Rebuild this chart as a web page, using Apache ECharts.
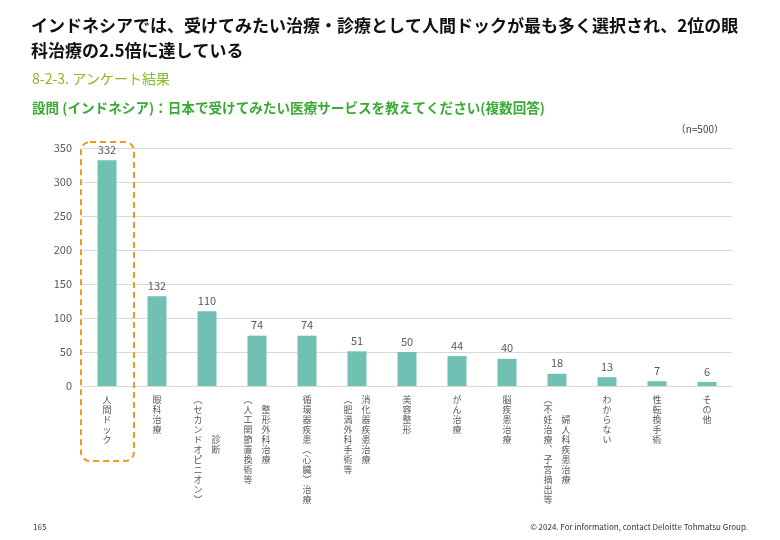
<!DOCTYPE html>
<html><head><meta charset="utf-8">
<script src="https://cdn.jsdelivr.net/npm/echarts@6/dist/echarts.min.js"></script>
<style>html,body{margin:0;padding:0;background:#fff}#c{width:780px;height:540px}</style>
</head><body><div id="c"></div>
<script>
const categories = ['人間ドック','眼科治療','診断\n（セカンドオピニオン）','整形外科治療\n（人工関節置換術等','循環器疾患（心臓）治療','消化器疾患治療\n（肥満外科手術等','美容整形','がん治療','脳疾患治療','婦人科疾患治療\n（不妊治療、子宮摘出等','わからない','性転換手術','その他'];
const values = [332,132,110,74,74,51,50,44,40,18,13,7,6];
const yTicks = {min:0, max:350, interval:50};

const FONT = '"Noto Sans CJK JP","Noto Sans",sans-serif';
const vmap = {'（':'︵','）':'︶','、':'︑'};
function vert(name){
  const cols = name.split('\n').map(c => Array.from(c).map(ch => vmap[ch] || ch));
  if (cols.length === 1) return cols[0].join('\n');
  const r = cols[0], l = cols[1];
  const off = Math.floor((l.length - r.length) / 2);
  const n = Math.max(l.length, r.length + off);
  const lines = [];
  for (let i = 0; i < n; i++) {
    lines.push((l[i] || '　') + '　' + (r[i - off] || '　'));
  }
  return lines.join('\n');
}

const chart = echarts.init(document.getElementById('c'), null, {renderer:'canvas'});
const option = {
  backgroundColor:'#fff',
  animation:false,
  textStyle:{fontFamily:FONT},
  title:[
    {text:'インドネシアでは、受けてみたい治療・診療として人間ドックが最も多く選択され、2位の眼\n科治療の2.5倍に達している',
     left:31, top:13, padding:0,
     textStyle:{fontFamily:FONT, fontSize:17, fontWeight:'bold', color:'#111', lineHeight:25}},
    {text:'8-2-3. アンケート結果', left:32, top:72, padding:0,
     textStyle:{fontFamily:FONT, fontSize:14, fontWeight:'normal', color:'#86bc25'}},
    {text:'設問 (インドネシア)：日本で受けてみたい医療サービスを教えてください(複数回答)', left:32, top:101, padding:0,
     textStyle:{fontFamily:FONT, fontSize:13.6, fontWeight:'bold', color:'#3aaa35'}},
    {text:'（n=500）', right:56, top:124, padding:0,
     textStyle:{fontFamily:FONT, fontSize:10, fontWeight:'normal', color:'#404040'}},
    {text:'165', left:33, top:523, padding:0,
     textStyle:{fontFamily:FONT, fontSize:8, fontWeight:'normal', color:'#333'}},
    {text:'© 2024. For information, contact Deloitte Tohmatsu Group.', right:32, top:523, padding:0,
     textStyle:{fontFamily:FONT, fontSize:8, fontWeight:'normal', color:'#333'}}
  ],
  grid:{left:82, width:650, top:148, height:238, containLabel:false},
  xAxis:{
    type:'category', data:categories,
    axisTick:{show:false},
    axisLine:{lineStyle:{color:'#d9d9d9', width:1}},
    axisLabel:{interval:0, formatter:vert, fontFamily:FONT, fontSize:9, lineHeight:10, color:'#595959', margin:9, verticalAlign:'top'}
  },
  yAxis:{
    type:'value', min:yTicks.min, max:yTicks.max, interval:yTicks.interval,
    axisLine:{show:false}, axisTick:{show:false},
    axisLabel:{fontFamily:FONT, fontSize:11, color:'#595959', margin:10},
    splitLine:{lineStyle:{color:'#d9d9d9', width:1}}
  },
  series:[{
    type:'bar', data:values, barWidth:19,
    itemStyle:{color:'#70c1b3'},
    label:{show:true, position:'top', distance:5, fontFamily:FONT, fontSize:11, color:'#595959'}
  }]
};
chart.setOption(option);

const cx = chart.convertToPixel({xAxisIndex:0}, categories[0]);
const yTop = chart.convertToPixel({yAxisIndex:0}, yTicks.max);
const yBase = chart.convertToPixel({yAxisIndex:0}, 0);
chart.setOption({graphic:[{
  type:'rect', shape:{x:cx-26, y:yTop-6, width:53, height:(yBase-yTop)+81, r:9},
  style:{fill:'none', stroke:'#f39a1e', lineWidth:2, lineDash:[6,4]}, z:100
}]});
</script>
</body></html>
